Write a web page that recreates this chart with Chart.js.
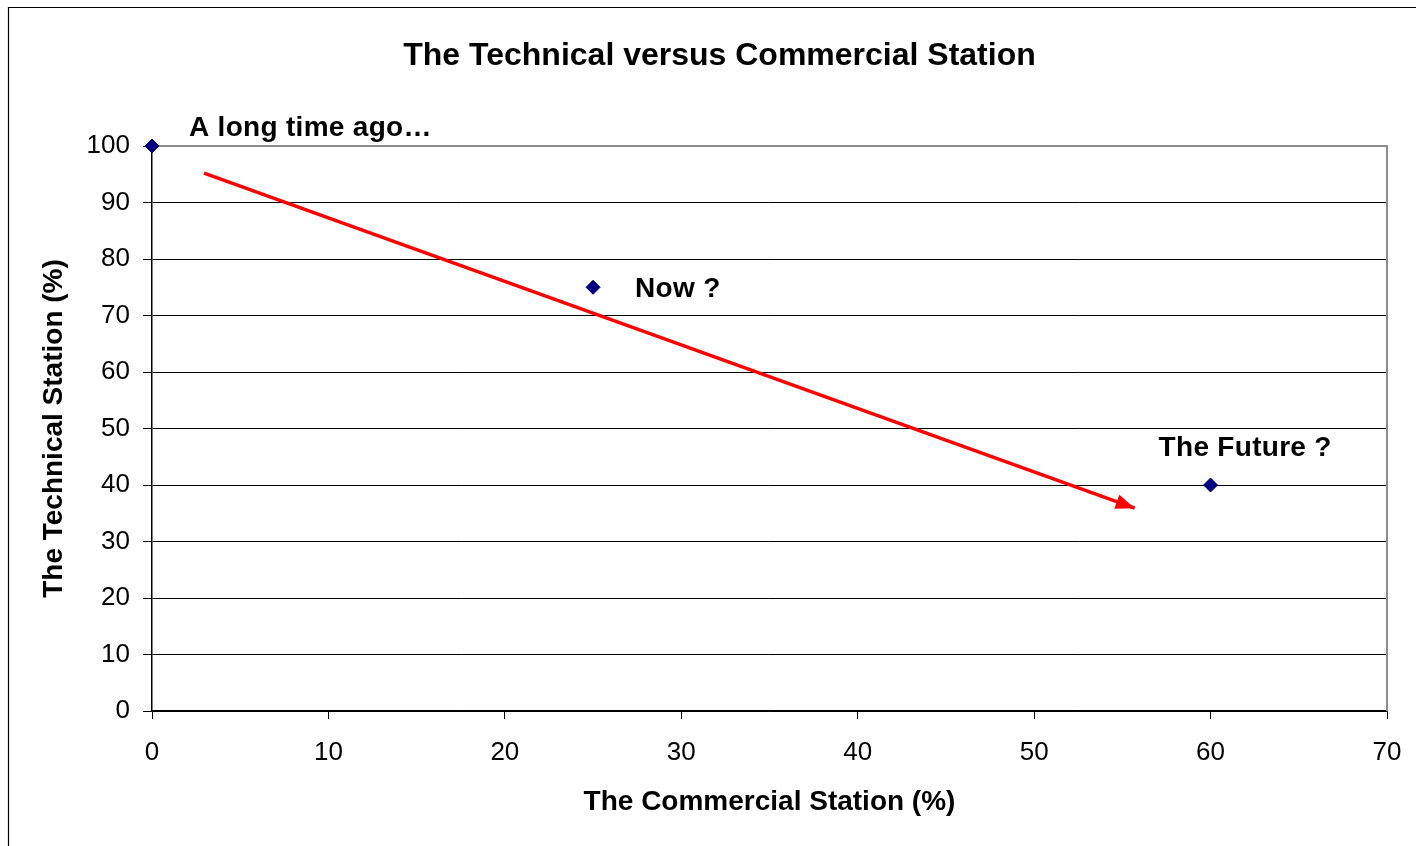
<!DOCTYPE html>
<html>
<head>
<meta charset="utf-8">
<script src="https://cdn.jsdelivr.net/npm/chart.js@4/dist/chart.umd.min.js"></script>
<style>
  html, body { margin: 0; padding: 0; background: #fff; }
  #wrap { width: 1416px; height: 846px; }
</style>
</head>
<body>
<div id="wrap"><canvas id="c" width="1416" height="846"></canvas></div>
<script>
// Station positions: commercial share (x) vs technical share (y)
const stageNames = ['A long time ago…', 'Now ?', 'The Future ?'];
const commercialPct = [0, 25, 60];
const technicalPct = [100, 75, 40];

// Trend arrow, start and end in data units
const trendX = [2.95, 55.7];
const trendY = [95.2, 35.9];

// Axis tick values
const xTicks = [0, 10, 20, 30, 40, 50, 60, 70];
const yTicks = [0, 10, 20, 30, 40, 50, 60, 70, 80, 90, 100];

const chartTitle = 'The Technical versus Commercial Station';

// Label placement relative to each marker (pixels)
const labelDX = [37, 42, -52];
const labelDY = [-18, 2, -37];

const FONT = '"Liberation Sans", Arial, Helvetica, sans-serif';

const framePlugin = {
  id: 'frame',
  beforeDraw(chart) {
    const ctx = chart.ctx;
    ctx.save();
    ctx.fillStyle = '#fff';
    ctx.fillRect(0, 0, chart.width, chart.height);
    // outer frame (left and top edges visible)
    ctx.strokeStyle = '#000';
    ctx.lineWidth = 1.2;
    ctx.beginPath();
    ctx.moveTo(8.5, chart.height + 2);
    ctx.lineTo(8.5, 7.5);
    ctx.lineTo(chart.width + 2, 7.5);
    ctx.stroke();
    // chart title, centred on the frame
    ctx.fillStyle = '#000';
    ctx.font = 'bold 32px ' + FONT;
    ctx.textAlign = 'center';
    ctx.textBaseline = 'middle';
    ctx.fillText(chartTitle, 719.5, 56);
    ctx.restore();
  },
  beforeDatasetsDraw(chart) {
    const {ctx, chartArea: a} = chart;
    ctx.save();
    ctx.strokeStyle = '#8c8c8c';
    ctx.lineWidth = 2;
    ctx.beginPath();
    ctx.moveTo(a.left, a.top);
    ctx.lineTo(a.right, a.top);
    ctx.lineTo(a.right, a.bottom);
    ctx.stroke();
    ctx.restore();
  }
};

const annotatePlugin = {
  id: 'annotate',
  afterDatasetsDraw(chart) {
    const ctx = chart.ctx;
    // arrowhead at the end of the trend line
    const tm = chart.getDatasetMeta(1).data;
    const p0 = tm[0], p1 = tm[tm.length - 1];
    const ang = Math.atan2(p1.y - p0.y, p1.x - p0.x);
    const len = 19, half = 7.5;
    ctx.save();
    ctx.fillStyle = '#ff0000';
    ctx.translate(p1.x, p1.y);
    ctx.rotate(ang);
    ctx.beginPath();
    ctx.moveTo(0, 0);
    ctx.lineTo(-len, -half);
    ctx.lineTo(-len, half);
    ctx.closePath();
    ctx.fill();
    ctx.restore();

    // stage labels next to the markers
    const pts = chart.getDatasetMeta(0).data;
    ctx.save();
    ctx.font = 'bold 28px ' + FONT;
    ctx.fillStyle = '#000';
    ctx.textAlign = 'left';
    ctx.textBaseline = 'middle';
    if ('letterSpacing' in ctx) ctx.letterSpacing = '0.3px';
    pts.forEach((p, i) => {
      ctx.fillText(stageNames[i], p.x + labelDX[i], p.y + labelDY[i]);
    });
    ctx.restore();
  }
};

new Chart(document.getElementById('c'), {
  type: 'scatter',
  data: {
    datasets: [
      {
        label: 'Stations',
        data: commercialPct.map((x, i) => ({x, y: technicalPct[i]})),
        pointStyle: 'rectRot',
        pointRadius: 7,
        pointHoverRadius: 7,
        backgroundColor: '#000080',
        borderColor: '#000080',
        borderWidth: 1,
        clip: false,
        order: 1
      },
      {
        label: 'Trend',
        data: trendX.map((x, i) => ({x, y: trendY[i]})),
        showLine: true,
        borderColor: '#ff0000',
        borderWidth: 3.5,
        pointRadius: 0,
        pointHoverRadius: 0,
        order: 2
      }
    ]
  },
  options: {
    responsive: false,
    animation: false,
    devicePixelRatio: 1,
    layout: { padding: { left: 0, right: 29, top: 146, bottom: 0 } },
    plugins: {
      legend: { display: false },
      tooltip: { enabled: false },
      title: { display: false }
    },
    scales: {
      x: {
        type: 'linear',
        min: 0,
        max: 70,
        afterBuildTicks(scale) { scale.ticks = xTicks.map(v => ({value: v})); },
        afterFit(scale) {
          scale.height = 135;
          scale.paddingLeft = 0;
          scale.paddingRight = 0;
        },
        border: { display: true, color: '#000', width: 1.5 },
        grid: { drawOnChartArea: false, drawTicks: true, tickLength: 8, tickColor: '#000', tickWidth: 1 },
        ticks: { color: '#000', padding: 18, font: { family: FONT, size: 26 }, maxRotation: 0 },
        title: {
          display: true,
          text: 'The Commercial Station (%)',
          color: '#000',
          font: { family: FONT, size: 28, weight: 'bold', lineHeight: 1.2 },
          padding: { top: 0, bottom: 27 }
        }
      },
      y: {
        type: 'linear',
        min: 0,
        max: 100,
        afterBuildTicks(scale) { scale.ticks = yTicks.map(v => ({value: v})); },
        afterFit(scale) { scale.width = 152; },
        border: { display: true, color: '#000', width: 1.5 },
        grid: {
          drawOnChartArea: true,
          drawTicks: true,
          tickLength: 9,
          color: ctx => (ctx.tick && ctx.tick.value === 100 ? 'rgba(0,0,0,0)' : '#000'),
          tickColor: '#000',
          lineWidth: 1
        },
        ticks: { color: '#000', padding: 13, font: { family: FONT, size: 26 } },
        title: {
          display: true,
          text: 'The Technical Station (%)',
          color: '#000',
          font: { family: FONT, size: 28, weight: 'bold', lineHeight: 1.2 },
          padding: { top: 37.2, bottom: 0 }
        }
      }
    }
  },
  plugins: [framePlugin, annotatePlugin]
});
</script>
</body>
</html>
